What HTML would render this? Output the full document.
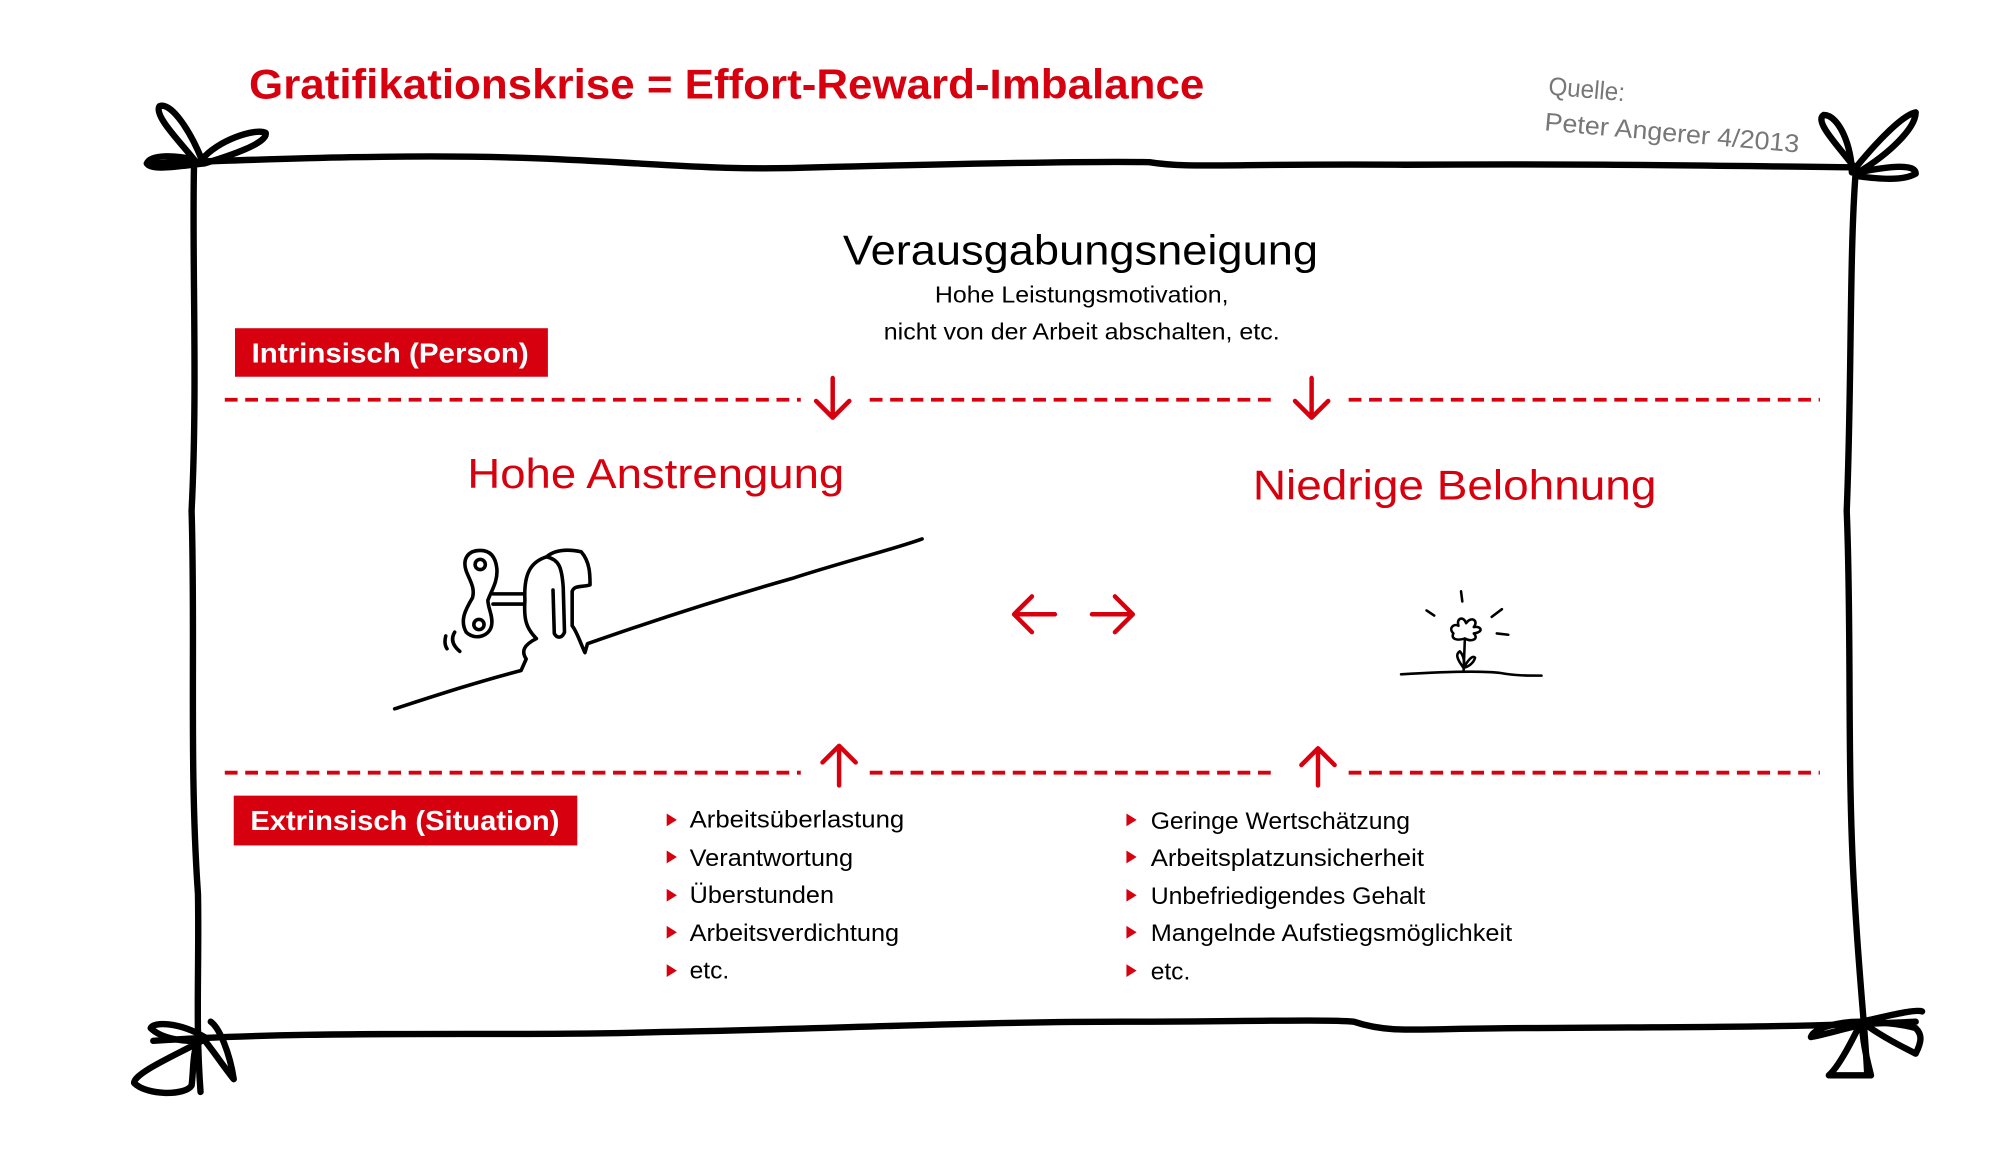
<!DOCTYPE html>
<html><head><meta charset="utf-8"><style>
html,body{margin:0;padding:0;background:#fff;width:2000px;height:1166px;overflow:hidden}
svg{display:block}
text{font-family:"Liberation Sans",sans-serif}
</style></head><body>
<svg width="2000" height="1166" viewBox="0 0 1566 913" xmlns="http://www.w3.org/2000/svg">
<rect width="1600" height="920" fill="#fff"/>
<!-- title -->
<text x="195" y="77" font-size="33" font-weight="bold" fill="#d7000f" textLength="748" lengthAdjust="spacingAndGlyphs">Gratifikationskrise = Effort-Reward-Imbalance</text>
<text x="1212" y="74" font-size="20" fill="#777" font-family="Liberation Serif,serif" transform="rotate(5 1212 74)" textLength="60" lengthAdjust="spacingAndGlyphs">Quelle:</text>
<text x="1209" y="102" font-size="20" fill="#777" font-family="Liberation Serif,serif" transform="rotate(5 1209 102)" textLength="200" lengthAdjust="spacingAndGlyphs">Peter Angerer 4/2013</text>

<!-- frame -->
<g fill="none" stroke="#000" stroke-width="5" stroke-linecap="round" stroke-linejoin="round">
<path d="M115 128 C200 125 320 120 420 124 C520 128 560 134 640 131 C760 128 860 126 900 127 C930 132 960 128 1100 129 C1250 128 1350 130 1452 131"/>
<path d="M152 125 C150 200 155 300 150 400 C153 500 148 600 155 700 C156 760 153 800 157 855"/>
<path d="M1453 135 C1448 200 1450 300 1446 400 C1450 500 1446 600 1452 700 C1456 770 1460 800 1462 840"/>
<path d="M120 815 C250 806 400 812 520 808 C640 806 760 800 880 800 C960 800 1040 798 1060 800 C1090 810 1110 805 1200 805 C1300 804 1400 805 1500 800"/>
<!-- bows -->
<path d="M152 125 C140 110 120 90 125 83 C135 80 150 105 158 125 C170 110 200 100 208 104 C210 112 180 122 160 128 C140 130 118 134 115 128 C118 120 140 122 152 125"/>
<path d="M1452 131 C1440 115 1420 95 1428 90 C1440 90 1450 115 1450 135 C1470 110 1490 90 1500 88 C1500 100 1480 120 1455 135 C1480 130 1500 128 1500 136 C1490 142 1470 140 1455 138"/>
<path d="M160 812 C140 800 120 800 118 805 C125 812 140 816 158 815 C140 825 105 840 105 848 C115 858 145 858 150 850 C152 835 150 820 158 812 C165 820 175 835 183 845 C180 825 172 805 165 800"/>
<path d="M1456 800 C1440 800 1420 805 1418 812 C1430 810 1445 805 1456 803 C1450 815 1440 835 1432 842 L1465 842 C1462 830 1458 815 1458 800 C1470 810 1490 820 1500 825 C1505 815 1505 810 1500 805 C1490 802 1470 800 1458 800 C1480 795 1500 790 1505 792"/>
</g>

<!-- center texts -->
<text x="846" y="207" font-size="33" fill="#000" text-anchor="middle" textLength="372" lengthAdjust="spacingAndGlyphs">Verausgabungsneigung</text>
<text x="847" y="237" font-size="18" fill="#000" text-anchor="middle" textLength="230" lengthAdjust="spacingAndGlyphs">Hohe Leistungsmotivation,</text>
<text x="847" y="266" font-size="18" fill="#000" text-anchor="middle" textLength="310" lengthAdjust="spacingAndGlyphs">nicht von der Arbeit abschalten, etc.</text>

<!-- red boxes -->
<rect x="184" y="257" width="245" height="38" fill="#d7000f"/>
<text x="197" y="284" font-size="22" font-weight="bold" fill="#fff" textLength="217" lengthAdjust="spacingAndGlyphs">Intrinsisch (Person)</text>
<rect x="183" y="623" width="269" height="39" fill="#d7000f"/>
<text x="196" y="650" font-size="22" font-weight="bold" fill="#fff" textLength="242" lengthAdjust="spacingAndGlyphs">Extrinsisch (Situation)</text>

<!-- dashed lines -->
<g stroke="#d7000f" stroke-width="3" fill="none" stroke-dasharray="10 6">
<path d="M176 313 H627 M681 313 H1000 M1056 313 H1425"/>
<path d="M176 605 H627 M681 605 H1000 M1056 605 H1425"/>
</g>
<g stroke="#d7000f" stroke-width="3.5" fill="none" stroke-linecap="round" stroke-linejoin="round">
<path d="M652 296 V327 M639 314 L652 327 L665 314"/>
<path d="M1027 296 V327 M1014 314 L1027 327 L1040 314"/>
<path d="M657 615 V584 M644 597 L657 584 L670 597"/>
<path d="M1032 615 V586 M1019 599 L1032 586 L1045 599"/>
<path d="M826 481 H794 M808 467 L794 481 L808 495"/>
<path d="M855 481 H887 M873 467 L887 481 L873 495"/>
</g>

<text x="366" y="382" font-size="33" fill="#d7000f" textLength="295" lengthAdjust="spacingAndGlyphs">Hohe Anstrengung</text>
<text x="981" y="391" font-size="33" fill="#d7000f" textLength="316" lengthAdjust="spacingAndGlyphs">Niedrige Belohnung</text>

<!-- figure -->
<g fill="none" stroke="#000" stroke-width="2.8" stroke-linecap="round" stroke-linejoin="round">
<path d="M309 555 C340 545 370 535 408 525 L412 516 C408 510 410 505 420 500 C412 492 410 485 411 470 C410 450 415 440 428 436 C435 430 445 430 455 432 C462 440 462 450 462 458 C455 460 450 458 448 463 L448 490 C452 495 455 505 458 511 L460 504 C500 490 560 470 620 453 C660 440 700 430 722 422"/>
<path d="M428 436 C438 438 440 445 441 460 L442 495 C440 500 436 500 434 496 L433 462"/>
<path d="M376 431 C366 431 362 438 365 447 C368 455 372 460 370 468 C364 478 360 486 365 495 C372 502 384 498 385 489 C386 482 382 476 382 470 C385 462 390 455 389 445 C388 436 384 431 376 431 Z"/>
<circle cx="376" cy="442" r="4"/><circle cx="375" cy="489" r="4"/>
<path d="M386 465 H410 M386 473 H410"/>
<path d="M356 495 C353 500 354 505 360 510 M349 498 C348 502 348 505 350 508"/>
</g>

<!-- flower -->
<g fill="none" stroke="#000" stroke-width="2" stroke-linecap="round" stroke-linejoin="round">
<path d="M1097 528 C1130 526 1160 525 1175 527 C1185 529 1195 529 1207 529"/>
<path d="M1146 526 L1147 500"/>
<path d="M1146 523 C1140 515 1140 512 1143 510 C1146 513 1147 518 1146 523 C1150 516 1153 513 1155 515 C1154 519 1150 522 1146 523"/>
<path d="M1147 500 C1140 502 1136 500 1138 496 C1134 492 1138 488 1142 490 C1140 484 1146 482 1148 488 C1152 482 1158 486 1154 491 C1160 490 1162 495 1154 496 C1158 500 1153 503 1147 500"/>
<path d="M1144 463 L1145 471 M1117 478 L1123 482 M1168 483 L1176 477 M1172 496 L1181 497"/>
</g>

<!-- lists -->
<g fill="#d7000f">
<path d="M522 637 L530 642 L522 647Z"/><path d="M522 666 L530 671 L522 676Z"/><path d="M522 696 L530 701 L522 706Z"/><path d="M522 725 L530 730 L522 735Z"/><path d="M522 755 L530 760 L522 765Z"/>
<path d="M882 637 L890 642 L882 647Z"/><path d="M882 666 L890 671 L882 676Z"/><path d="M882 696 L890 701 L882 706Z"/><path d="M882 725 L890 730 L882 735Z"/><path d="M882 755 L890 760 L882 765Z"/>
</g>
<g font-size="19" fill="#000">
<text x="540" y="648" textLength="168" lengthAdjust="spacingAndGlyphs">Arbeitsüberlastung</text>
<text x="540" y="678" textLength="128" lengthAdjust="spacingAndGlyphs">Verantwortung</text>
<text x="540" y="707" textLength="113" lengthAdjust="spacingAndGlyphs">Überstunden</text>
<text x="540" y="737" textLength="164" lengthAdjust="spacingAndGlyphs">Arbeitsverdichtung</text>
<text x="540" y="766" textLength="31" lengthAdjust="spacingAndGlyphs">etc.</text>
<text x="901" y="649" textLength="203" lengthAdjust="spacingAndGlyphs">Geringe Wertschätzung</text>
<text x="901" y="678" textLength="214" lengthAdjust="spacingAndGlyphs">Arbeitsplatzunsicherheit</text>
<text x="901" y="708" textLength="215" lengthAdjust="spacingAndGlyphs">Unbefriedigendes Gehalt</text>
<text x="901" y="737" textLength="283" lengthAdjust="spacingAndGlyphs">Mangelnde Aufstiegsmöglichkeit</text>
<text x="901" y="767" textLength="31" lengthAdjust="spacingAndGlyphs">etc.</text>
</g>
</svg>
</body></html>
